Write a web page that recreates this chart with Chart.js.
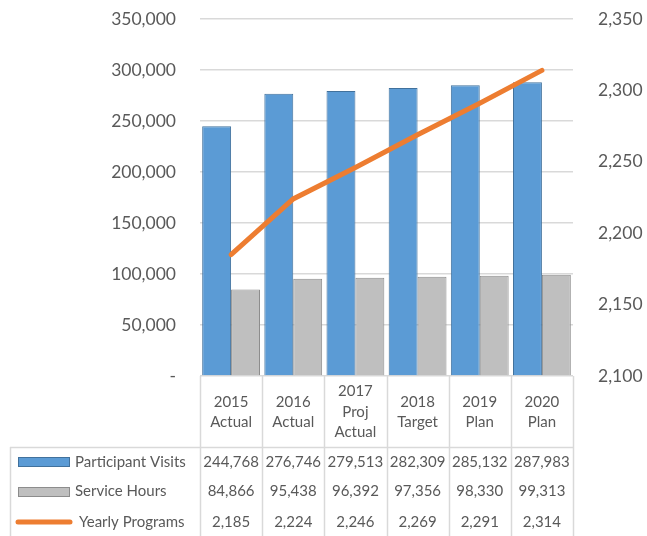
<!DOCTYPE html>
<html>
<head>
<meta charset="utf-8">
<script src="https://cdn.jsdelivr.net/npm/chart.js@4/dist/chart.umd.min.js"></script>
<style>
  body { margin: 0; background: #fff; }
  #wrap { width: 647px; height: 536px; position: relative; }
</style>
</head>
<body>
<div id="wrap"><canvas id="myChart"></canvas></div>
<script>
// etiquetas de las categorias (una linea por elemento)
var categories = [['2015','Actual'], ['2016','Actual'], ['2017','Proj','Actual'], ['2018','Target'], ['2019','Plan'], ['2020','Plan']];
var participantVisits = [244768, 276746, 279513, 282309, 285132, 287983];
var serviceHours = [84866, 95438, 96392, 97356, 98330, 99313];
var yearlyPrograms = [2185, 2224, 2246, 2269, 2291, 2314];
var leftTicks = [0, 50000, 100000, 150000, 200000, 250000, 300000, 350000];
var rightTicks = [2100, 2150, 2200, 2250, 2300, 2350];

var txtColor = '#595959';
var lineColor = '#d9d9d9';
var fam = 'Lato, "Open Sans", sans-serif';

function fmt(v){ return v.toLocaleString('en-US'); }

// ancho fijo del eje y sin relleno extra arriba/abajo
function fixAxis(width){
  return function(s){ s.width = width; s.paddingTop = 0; s.paddingBottom = 0; };
}

// tabla de datos debajo del grafico (estilo Excel)
var dataTable = {
  id: 'dataTable',
  afterDraw: function(chart){
    var c = chart.ctx;
    var a = chart.chartArea;
    var n = categories.length;
    var w = (a.right - a.left) / n;
    var headBottom = 447;
    var tableLeft = 10;
    var rowsY = [462, 491, 522];
    var H = chart.height;

    c.save();
    c.strokeStyle = lineColor;
    c.lineWidth = 1.5;
    // lineas verticales de las columnas
    for (var i = 0; i <= n; i++) {
      var x = Math.round(a.left + i * w) + 0.5;
      c.beginPath(); c.moveTo(x, a.bottom); c.lineTo(x, H); c.stroke();
    }
    // borde izquierdo y linea horizontal de la cabecera
    c.beginPath(); c.moveTo(tableLeft + 0.5, headBottom); c.lineTo(tableLeft + 0.5, H); c.stroke();
    c.beginPath(); c.moveTo(tableLeft, headBottom + 0.5); c.lineTo(a.right, headBottom + 0.5); c.stroke();

    c.fillStyle = txtColor;
    c.textAlign = 'center';
    c.textBaseline = 'middle';
    c.font = '15px ' + fam;
    // cabecera de categorias
    for (var i = 0; i < n; i++) {
      var cx = a.left + (i + 0.5) * w;
      var lines = categories[i];
      var lh = 20.5;
      var y0 = 412 - (lines.length - 1) * lh / 2;
      for (var j = 0; j < lines.length; j++) c.fillText(lines[j], cx, y0 + j * lh);
    }
    // valores
    var series = [participantVisits, serviceHours, yearlyPrograms];
    for (var r = 0; r < series.length; r++) {
      for (var i = 0; i < n; i++) {
        c.fillText(fmt(series[r][i]), a.left + (i + 0.5) * w, rowsY[r]);
      }
    }
    // claves de la leyenda
    c.fillStyle = '#5b9bd5'; c.fillRect(18, 457, 52, 10);
    c.strokeStyle = '#41719c'; c.lineWidth = 1; c.strokeRect(18.5, 457.5, 51, 9);
    c.fillStyle = '#bfbfbf'; c.fillRect(18, 487, 52, 10);
    c.strokeStyle = '#8c8c8c'; c.strokeRect(18.5, 487.5, 51, 9);
    c.strokeStyle = '#ed7d31'; c.lineWidth = 5; c.lineCap = 'round';
    c.beginPath(); c.moveTo(18, 522); c.lineTo(70, 522); c.stroke();

    c.fillStyle = txtColor;
    c.textAlign = 'left';
    c.fillText('Participant Visits', 75, rowsY[0]);
    c.fillText('Service Hours', 75, rowsY[1]);
    c.fillText('Yearly Programs', 79, rowsY[2]);
    c.restore();
  }
};

var ctx = document.getElementById('myChart').getContext('2d');
var myChart = new Chart(ctx, {
  type: 'bar',
  data: {
    labels: categories,
    datasets: [{
      type: 'line',
      label: 'Yearly Programs',
      data: yearlyPrograms,
      yAxisID: 'y1',
      borderColor: '#ed7d31',
      borderWidth: 5,
      borderCapStyle: 'round',
      pointRadius: 0,
      fill: false,
      order: 0
    }, {
      label: 'Participant Visits',
      data: participantVisits,
      yAxisID: 'y',
      backgroundColor: '#5b9bd5',
      borderColor: '#41719c',
      borderWidth: 1,
      order: 1
    }, {
      label: 'Service Hours',
      data: serviceHours,
      yAxisID: 'y',
      backgroundColor: '#bfbfbf',
      borderColor: '#8c8c8c',
      borderWidth: 1,
      order: 1
    }]
  },
  options: {
    responsive: true,
    maintainAspectRatio: false,
    animation: false,
    layout: { padding: { top: 19, bottom: 160, left: 0, right: 0 } },
    plugins: { legend: { display: false }, tooltip: { enabled: false } },
    datasets: { bar: { categoryPercentage: 0.93, barPercentage: 1 } },
    scales: {
      x: { display: false },
      y: {
        position: 'left',
        min: 0, max: 350000,
        afterBuildTicks: function(s){ s.ticks = leftTicks.map(function(v){ return {value: v}; }); },
        afterFit: fixAxis(200),
        border: { display: false },
        grid: { color: lineColor, lineWidth: 1.5, drawTicks: false },
        ticks: {
          padding: 24,
          color: txtColor,
          font: { family: fam, size: 17.5 },
          callback: function(v){ return v === 0 ? '-' : fmt(v); }
        }
      },
      y1: {
        position: 'right',
        min: 2100, max: 2350,
        afterBuildTicks: function(s){ s.ticks = rightTicks.map(function(v){ return {value: v}; }); },
        afterFit: fixAxis(74),
        border: { display: false },
        grid: { display: false },
        ticks: {
          padding: 17,
          color: txtColor,
          font: { family: fam, size: 17.5 },
          callback: function(v){ return fmt(v); }
        }
      }
    }
  },
  plugins: [dataTable]
});
</script>
</body>
</html>
